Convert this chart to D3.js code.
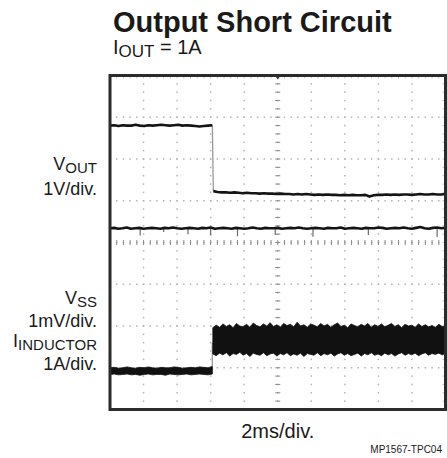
<!DOCTYPE html>
<html>
<head>
<meta charset="utf-8">
<script src="https://cdn.jsdelivr.net/npm/d3@7"></script>
<style>
  body { margin: 0; background: #fff; }
  text { font-family: "Liberation Sans", Arial, sans-serif; fill: #1a1a1a; }
</style>
</head>
<body>
<div id="chart-area"></div>
<script>
/*
*    Output Short Circuit scope capture
*    x in ms (2ms/div, 10 div), y in divisions (8 div)
*/

/* Data */
var stepT = 6.1;   // short circuit applied (ms)

// VOUT, before and after the short
var voutHigh = [6.80,6.81,6.79,6.81,6.80,6.80,6.82,6.80,6.79,6.81,6.80,6.81,6.82,6.81,6.80,6.81,6.82,6.80,6.81,6.80,6.79,6.78,6.79,6.80,6.81];
var voutLow = [5.23,5.21,5.20,5.20,5.19,5.20,5.19,5.18,5.19,5.18,
  5.18,5.17,5.18,5.17,5.17,5.16,5.17,5.16,5.16,5.15,
  5.16,5.15,5.16,5.15,5.14,5.15,5.14,5.15,5.14,5.14,
  5.13,5.14,5.13,5.14,5.13,5.13,5.14,5.10,5.13,5.14,
  5.14,5.15,5.14,5.15,5.14,5.15,5.15,5.14,5.15,5.16,
  5.15,5.15,5.16,5.15,5.15,5.16];

// VSS
var vss = [4.34,4.35,4.33,4.34,4.36,4.33,4.34,4.35,4.33,4.34,
  4.35,4.34,4.33,4.35,4.34,4.36,4.34,4.33,4.34,4.35,
  4.34,4.33,4.35,4.34,4.36,4.33,4.34,4.35,4.34,4.33,
  4.35,4.34,4.33,4.34,4.36,4.34,4.33,4.35,4.34,4.34,
  4.35,4.33,4.34,4.35,4.34,4.36,4.34,4.33,4.34,4.35,
  4.34,4.33,4.35,4.34,4.34,4.36,4.33,4.34,4.35,4.34,
  4.33,4.35,4.34,4.34,4.36,4.35,4.33,4.34,4.35,4.34,
  4.36,4.34,4.33,4.35,4.37,4.34,4.33,4.35,4.36,4.34,
  4.35];
var vssSpikeT = [1.8, 3.2, 4.65, 6.0, 7.6, 9.85, 12.1, 15.4, 19.5];
var vssSpikeV = [4.17, 4.25, 4.20, 4.17, 4.15, 4.18, 4.14, 4.18, 4.13];

// Inductor current envelope (top / bottom of the trace band)
var indLowTop = [1.00,1.01,0.99,1.00,1.02,1.00,0.99,1.01,1.00,1.02,1.00,0.99,1.01,1.00,1.00,1.02,1.01,0.99,1.00,1.01,1.00,1.02,1.01,1.00,1.03];
var indLowBot = [0.84,0.85,0.83,0.84,0.85,0.83,0.84,0.82,0.84,0.85,0.83,0.84,0.84,0.82,0.85,0.84,0.83,0.84,0.85,0.83,0.84,0.85,0.84,0.83,0.85];
var indHighTop = [1.96,2.02,1.97,2.05,1.99,2.03,1.96,2.06,2.00,1.98,
  2.04,1.97,2.07,2.01,1.98,2.05,2.00,2.08,1.99,2.03,
  1.97,2.06,2.01,2.04,1.98,2.09,2.00,2.03,1.97,2.05,
  2.02,1.98,2.06,2.00,2.04,1.97,2.03,2.07,1.99,2.02,
  1.96,2.05,2.01,1.98,2.04,2.00,2.06,1.97,2.03,1.99,
  2.05,1.98,2.02,2.06,1.99,2.03,1.96,2.04,2.00,2.02,
  1.97,2.05,1.99,2.03,1.98,2.01,1.97,2.04,1.99,2.00];
var indHighBot = [1.33,1.29,1.35,1.31,1.36,1.28,1.34,1.32,1.37,1.30,
  1.34,1.27,1.35,1.32,1.30,1.36,1.29,1.33,1.35,1.28,
  1.34,1.31,1.36,1.29,1.33,1.30,1.35,1.27,1.34,1.32,
  1.30,1.36,1.29,1.34,1.31,1.35,1.28,1.33,1.36,1.30,
  1.34,1.29,1.32,1.35,1.28,1.34,1.31,1.36,1.30,1.33,
  1.29,1.35,1.31,1.34,1.28,1.33,1.36,1.30,1.34,1.31,
  1.35,1.29,1.33,1.36,1.30,1.34,1.32,1.35,1.31,1.34];

var xDivs = 10, yDivs = 8, msPerDiv = 2;


/* Canvas */
var svg = d3.select("#chart-area").append("svg")
  .attr("width", 447)
  .attr("height", 458);

var plot = {left:110, top:75.5, right:445.5, bottom:409.5};

/* Scales */
var x = d3.scaleLinear()
  .domain([0, xDivs*msPerDiv])
  .range([plot.left, plot.right]);

var y = d3.scaleLinear()
  .domain([0, yDivs])
  .range([plot.bottom, plot.top]);

// samples spread evenly over a time window
function spread(vals, t0, t1){
  return vals.map((v,i)=>({t: t0 + (t1-t0)*i/(vals.length-1), v: v}));
}
function band(top, bot, t0, t1){
  return top.map((v,i)=>({t: t0 + (t1-t0)*i/(top.length-1), hi: v, lo: bot[i]}));
}


/* Grid (dotted, minor dots every 1/5 div) */
var xMinor = d3.range(0, xDivs*5+1).map(i=> i*msPerDiv/5);
var yMinor = d3.range(0, yDivs*5+1).map(i=> i/5);
var xMajor = d3.range(1, xDivs).map(i=> i*msPerDiv);
var yMajor = d3.range(1, yDivs);

var grid = svg.append("g").attr("fill", "#b4b4b4");

// dots on horizontal grid lines
yMajor.forEach(d=>{
  grid.selectAll(null).data(xMinor).enter().append("rect")
    .attr("x", t=> x(t)-0.75).attr("y", y(d)-0.75)
    .attr("width", 1.5).attr("height", 1.5);
});
// dots on vertical grid lines
xMajor.forEach(d=>{
  grid.selectAll(null).data(yMinor).enter().append("rect")
    .attr("x", x(d)-0.75).attr("y", v=> y(v)-0.75)
    .attr("width", 1.5).attr("height", 1.5);
});

// center cross with minor ticks
var cx = x(xDivs*msPerDiv/2), cy = y(yDivs/2);
svg.append("g").selectAll("line").data(xMinor).enter().append("line")
  .attr("x1", t=> x(t)).attr("x2", t=> x(t))
  .attr("y1", cy-2.5).attr("y2", cy+2.5)
  .attr("stroke", "#8a8a8a").attr("stroke-width", 1);
svg.append("g").selectAll("line").data(yMinor).enter().append("line")
  .attr("y1", v=> y(v)).attr("y2", v=> y(v))
  .attr("x1", cx-2.5).attr("x2", cx+2.5)
  .attr("stroke", "#8a8a8a").attr("stroke-width", 1);

// ticks along the frame edges
svg.append("g").selectAll("line").data(xMinor).enter().append("line")
  .attr("x1", t=> x(t)).attr("x2", t=> x(t))
  .attr("y1", plot.top).attr("y2", plot.top+3)
  .attr("stroke", "#c4c4c4");
svg.append("g").selectAll("line").data(yMinor).enter().append("line")
  .attr("y1", v=> y(v)).attr("y2", v=> y(v))
  .attr("x1", plot.right-3).attr("x2", plot.right)
  .attr("stroke", "#c4c4c4");


/* Traces */
var line = d3.line().x(d=> x(d.t)).y(d=> y(d.v));
var area = d3.area().x(d=> x(d.t)).y0(d=> y(d.lo)).y1(d=> y(d.hi));

// VOUT
var vHi = spread(voutHigh, 0, stepT);
var vLo = spread(voutLow, stepT+0.06, 20);
svg.append("path")
  .attr("d", line([vHi[vHi.length-1], vLo[0]]))
  .attr("fill", "none").attr("stroke", "#9a9a9a").attr("stroke-width", 1.3);
[vHi, vLo].forEach(seg=>{
  svg.append("path")
    .attr("d", line(seg))
    .attr("fill", "none").attr("stroke", "#141414")
    .attr("stroke-width", 2.6).attr("stroke-linejoin", "round");
});

// VSS
vssSpikeT.forEach((t,i)=>{
  svg.append("line")
    .attr("x1", x(t)).attr("x2", x(t))
    .attr("y1", y(4.33)).attr("y2", y(vssSpikeV[i]))
    .attr("stroke", "#6a6a6a").attr("stroke-width", 1.2);
});
svg.append("path")
  .attr("d", line(spread(vss, 0, 20)))
  .attr("fill", "none").attr("stroke", "#141414")
  .attr("stroke-width", 2.6).attr("stroke-linejoin", "round");

// Inductor current
var iLo = band(indLowTop, indLowBot, 0, stepT);
var iHi = band(indHighTop, indHighBot, stepT+0.03, 20);
svg.append("path")
  .attr("d", line([{t:stepT, v:0.95}, {t:stepT, v:1.6}]))
  .attr("stroke", "#9a9a9a").attr("stroke-width", 1.3);
[iLo, iHi].forEach(seg=>{
  svg.append("path")
    .attr("d", area(seg))
    .attr("fill", "#111").attr("stroke", "#111")
    .attr("stroke-width", 0.8).attr("stroke-linejoin", "round");
});

// trigger marker
svg.append("path")
  .attr("d", `M${cx-3},${plot.top} L${cx+3},${plot.top} L${cx},${plot.top+4} Z`)
  .attr("fill", "#333");

/* Frame */
svg.append("rect")
  .attr("x", plot.left).attr("y", plot.top)
  .attr("width", plot.right-plot.left).attr("height", plot.bottom-plot.top)
  .attr("fill", "none").attr("stroke", "#2b2b2b").attr("stroke-width", 3);


/* Labels */
svg.append("text")
  .attr("x", 113).attr("y", 32)
  .attr("font-size", "29px").attr("font-weight", "bold")
  .text("Output Short Circuit");

var sub = svg.append("text").attr("x", 113).attr("y", 54).attr("font-size", "20px");
sub.append("tspan").text("I");
sub.append("tspan").attr("font-size", "17px").attr("dy", 3).text("OUT");
sub.append("tspan").attr("dy", -3).text(" = 1A");

// channel labels: [main, subscript, scale, name baseline, scale baseline]
var chLabels = [
  ["V", "OUT", "1V/div.", 170, 195],
  ["V", "SS", "1mV/div.", 304, 327],
  ["I", "INDUCTOR", "1A/div.", 347, 370]
];
chLabels.forEach(c=>{
  var t = svg.append("text")
    .attr("x", 97).attr("y", c[3])
    .attr("text-anchor", "end").attr("font-size", "18px");
  t.append("tspan").text(c[0]);
  t.append("tspan").attr("font-size", "15px").attr("dy", 3).text(c[1]);
  svg.append("text")
    .attr("x", 97).attr("y", c[4])
    .attr("text-anchor", "end").attr("font-size", "18px")
    .text(c[2]);
});

svg.append("text")
  .attr("x", (plot.left+plot.right)/2).attr("y", 438)
  .attr("text-anchor", "middle").attr("font-size", "20px")
  .text("2ms/div.");

svg.append("text")
  .attr("x", 442).attr("y", 452.5)
  .attr("text-anchor", "end").attr("font-size", "10px")
  .attr("fill", "#333")
  .text("MP1567-TPC04");
</script>
</body>
</html>
